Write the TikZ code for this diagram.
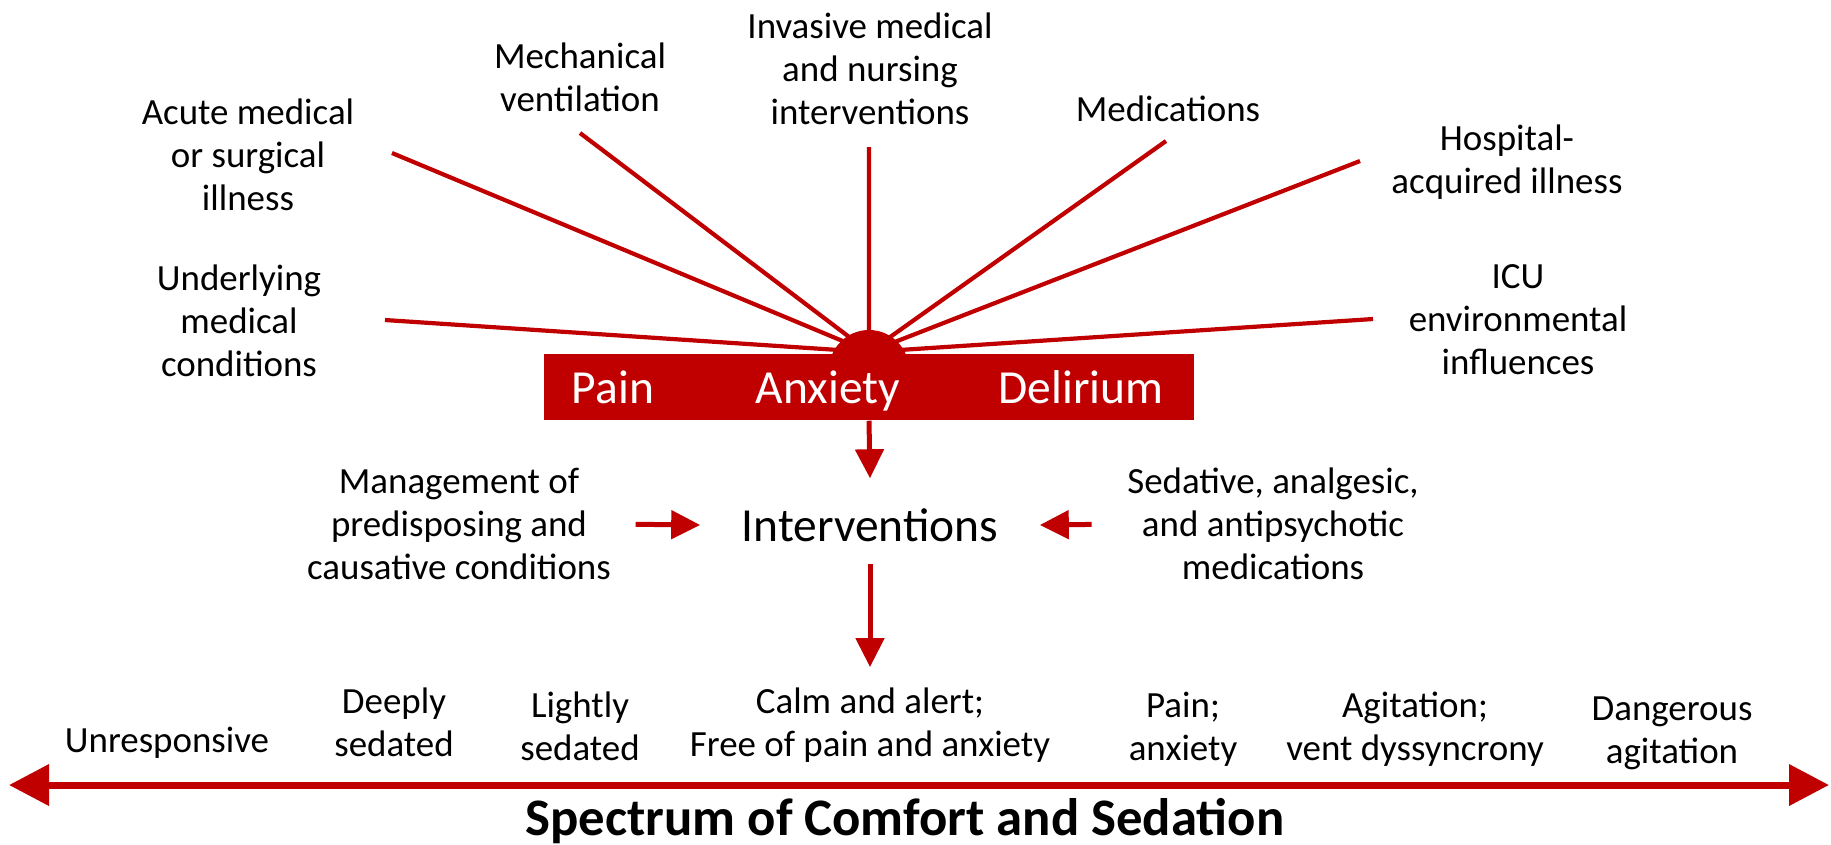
\documentclass[tikz,border=0pt]{standalone}
\usepackage{fontspec}
\setmainfont{Carlito}
\usetikzlibrary{arrows.meta}
\definecolor{darkred}{RGB}{192,0,0}

\begin{document}
\begin{tikzpicture}
[
	x=0.01cm, y=-0.01cm,
	lbl/.style={align=center,inner sep=0pt,font=\fontsize{10.5}{12.2}\selectfont},
	barlbl/.style={white,inner sep=0pt,anchor=base,font=\fontsize{13.5}{16}\selectfont},
	spoke/.style={darkred,line width=0.42mm},
	arr/.style={darkred,line width=0.5mm,-{Triangle[length=2.9mm,width=2.8mm]}}
]
	\useasboundingbox (0,0) rectangle (1831,844);

	% causes
	\node[lbl] (acute) at (248,155) {Acute medical\\or surgical\\illness};
	\node[lbl] (mech)  at (580,77)  {Mechanical\\ventilation};
	\node[lbl] (invas) at (870,69)  {Invasive medical\\and nursing\\interventions};
	\node[lbl] (meds)  at (1168,109) {Medications};
	\node[lbl] (hosp)  at (1507,162) {Hospital-\\acquired illness};
	\node[lbl] (under) at (239,321) {Underlying\\medical\\conditions};
	\node[lbl] (icu)   at (1518,320) {ICU\\environmental\\influences};

	\coordinate (hub) at (869,352);
	\coordinate (sacute) at (392,153);
	\coordinate (smech)  at (580,133);
	\coordinate (sinvas) at (869,147);
	\coordinate (smeds)  at (1166,141);
	\coordinate (shosp)  at (1360,161);
	\coordinate (sunder) at (385,320);
	\coordinate (sicu)   at (1373,319);

	\draw[spoke]
	  (sunder) -- (hub)
	  (sacute) -- (hub)
	  (smech)  -- (hub)
	  (sinvas) -- (hub)
	  (smeds)  -- (hub)
	  (shosp)  -- (hub)
	  (sicu)   -- (hub)
	;

	% bar
	\node[circle,fill=darkred,inner sep=0pt,minimum size=8mm] (dome) at (869,370) {};
	\node[fill=darkred,inner sep=0pt,minimum width=6.5cm,minimum height=6.6mm] (bar) at (869,387) {};
	\node[barlbl] (pain)  at (613,403)  {Pain};
	\node[barlbl] (anx)   at (828,403)  {Anxiety};
	\node[barlbl] (delir) at (1081,403) {Delirium};

	% interventions
	\node[inner sep=0pt,minimum width=3.38cm,minimum height=9.2mm,font=\fontsize{13.5}{16}\selectfont] (interv) at (870,525) {Interventions};
	\node[lbl] (mgmt) at (459,524) {Management of\\predisposing and\\causative conditions};
	\node[lbl] (sed)  at (1273,524) {Sedative, analgesic,\\and antipsychotic\\medications};

	\draw[arr] (bar.south) -- (interv.north);
	\draw[arr,shorten <=2.4mm] (mgmt.east) -- (interv.west);
	\draw[arr,shorten <=3.5mm] (sed.west) -- (interv.east);

	% spectrum
	\node[lbl] (unresp) at (167,743)  {Unresponsive};
	\node[lbl] (deep)   at (394,722)  {Deeply\\sedated};
	\node[lbl] (light)  at (580,726)  {Lightly\\sedated};
	\node[lbl] (calm)   at (870,725)  {Calm and alert;\\Free of pain and anxiety};
	\node[lbl] (pain2)  at (1183,729) {Pain;\\anxiety};
	\node[lbl] (agit)   at (1415,729) {Agitation;\\vent dyssyncrony};
	\node[lbl] (danger) at (1672,733) {Dangerous\\agitation};

	\draw[arr,shorten <=-0.8mm,shorten >=2mm] (interv.south) -- (calm.north);

	\coordinate (lo) at (9,785);
	\coordinate (hi) at (1829,785);
	\draw[darkred,line width=0.7mm,{Triangle[length=4mm,width=4mm]}-{Triangle[length=4mm,width=4mm]}] (lo) -- (hi);

	\node[anchor=base,inner sep=0pt,font=\bfseries\fontsize{15}{18}\selectfont] (spectrum) at (905,835) {Spectrum of Comfort and Sedation};

\end{tikzpicture}
\end{document}
